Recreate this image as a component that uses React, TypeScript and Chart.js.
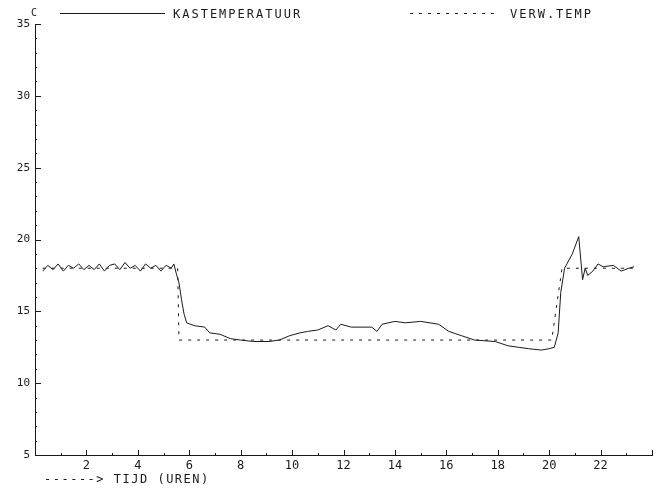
import React, { useEffect, useRef } from "react";
import { Chart, registerables } from "chart.js";

Chart.register(...registerables);

// Kastemperatuur (solid, measured)
const kasHours = [
  0.3, 0.5, 0.7, 0.9, 1.1, 1.3, 1.5, 1.7, 1.9, 2.1, 2.3, 2.5, 2.7, 2.9, 3.1, 3.3, 3.5, 3.7, 3.9, 4.1,
  4.3, 4.5, 4.7, 4.9, 5.1, 5.3, 5.4, 5.5, 5.6, 5.7, 5.8, 5.9, 6.2, 6.6, 6.8, 7.2, 7.6, 8.0, 8.5, 9.1,
  9.5, 9.9, 10.3, 10.6, 11.0, 11.4, 11.7, 11.9, 12.3, 12.8, 13.1, 13.3, 13.5, 14.0, 14.4, 15.0, 15.7,
  16.1, 16.6, 17.1, 17.9, 18.4, 18.8, 19.2, 19.7, 20.0, 20.2, 20.35, 20.45, 20.6, 20.9, 21.15, 21.3,
  21.4, 21.5, 21.7, 21.9, 22.1, 22.5, 22.8, 23.1, 23.3,
];
const kasTemp = [
  17.8, 18.2, 17.9, 18.3, 17.8, 18.2, 18.0, 18.3, 17.9, 18.2, 17.9, 18.3, 17.8, 18.2, 18.3, 17.9, 18.4, 18.0, 18.2, 17.8,
  18.3, 18.0, 18.2, 17.8, 18.2, 18.0, 18.3, 17.6, 17.0, 15.8, 14.8, 14.2, 14.0, 13.9, 13.5, 13.4, 13.1, 13.0, 12.9, 12.9,
  13.0, 13.3, 13.5, 13.6, 13.7, 14.0, 13.7, 14.1, 13.9, 13.9, 13.9, 13.6, 14.1, 14.3, 14.2, 14.3, 14.1,
  13.6, 13.3, 13.0, 12.9, 12.6, 12.5, 12.4, 12.3, 12.4, 12.5, 13.5, 16.3, 18.0, 19.0, 20.2, 17.2,
  18.0, 17.5, 17.8, 18.3, 18.1, 18.2, 17.8, 18.0, 18.1,
];

// Verwarmingstemperatuur (dotted, setpoint)
const verwHours = [0.3, 5.55, 5.6, 20.1, 20.5, 23.3];
const verwTemp = [18, 18, 13, 13, 18, 18];

const xMin = 0;
const xMax = 24;
const yMin = 5;
const yMax = 35;
const xLabelHours = [2, 4, 6, 8, 10, 12, 14, 16, 18, 20, 22];

const legendLabels = ["KASTEMPERATUUR", "VERW.TEMP"];
const xTitle = "------> TIJD (UREN)";
const yUnit = "C";

const INK = "#1a1a1a";
const MONO = '"DejaVu Sans Mono", "Liberation Mono", monospace';

const decorPlugin = {
  id: "decor",
  afterDraw(chart: any) {
    const ctx = chart.ctx;
    const xs = chart.scales.x;
    const ys = chart.scales.y;
    const area = chart.chartArea;
    ctx.save();
    ctx.strokeStyle = INK;
    ctx.lineWidth = 1;
    // x ticks (upward, inward)
    for (let h = xMin + 1; h <= xMax; h++) {
      const px = Math.round(xs.getPixelForValue(h)) + 0.5;
      const len = h % 2 === 0 ? 5 : 2;
      ctx.beginPath();
      ctx.moveTo(px, area.bottom);
      ctx.lineTo(px, area.bottom - len);
      ctx.stroke();
    }
    // y ticks (rightward, inward)
    for (let v = yMin + 1; v <= yMax; v++) {
      const py = Math.round(ys.getPixelForValue(v)) + 0.5;
      const len = v % 5 === 0 ? 6 : 2;
      ctx.beginPath();
      ctx.moveTo(area.left, py);
      ctx.lineTo(area.left + len, py);
      ctx.stroke();
    }
    // legend
    const ds = chart.data.datasets;
    ctx.font = `12px ${MONO}`;
    (ctx as any).letterSpacing = "2px";
    ctx.fillStyle = INK;
    ctx.textBaseline = "middle";
    const legendY = 13.5;
    const items = [
      { x0: 60, x1: 165, tx: 173 },
      { x0: 410, x1: 500, tx: 510 },
    ];
    items.forEach((it, i) => {
      ctx.setLineDash(ds[i].borderDash || []);
      ctx.beginPath();
      ctx.moveTo(it.x0, legendY);
      ctx.lineTo(it.x1, legendY);
      ctx.stroke();
      ctx.setLineDash([]);
      ctx.fillText(ds[i].label, it.tx, legendY + 1);
    });
    // x title
    ctx.font = `12px ${MONO}`;
    (ctx as any).letterSpacing = "1.5px";
    ctx.textBaseline = "alphabetic";
    ctx.fillText(xTitle, 44, 483);
    // y unit
    (ctx as any).letterSpacing = "0px";
    ctx.font = `10px ${MONO}`;
    ctx.fillText(yUnit, 31, 16);
    ctx.restore();
  },
};

export default function App() {
  const ref = useRef<HTMLCanvasElement | null>(null);
  useEffect(() => {
    if (!ref.current) return;
    const kasData = kasHours.map((h, i) => ({ x: h, y: kasTemp[i] }));
    const verwData = verwHours.map((h, i) => ({ x: h, y: verwTemp[i] }));
    const chart = new Chart(ref.current, {
      type: "line",
      data: {
        datasets: [
          {
            label: legendLabels[0],
            data: kasData,
            borderColor: INK,
            borderWidth: 1,
            pointRadius: 0,
            tension: 0,
            fill: false,
          },
          {
            label: legendLabels[1],
            data: verwData,
            borderColor: INK,
            borderWidth: 1,
            borderDash: [3, 6],
            pointRadius: 0,
            tension: 0,
            fill: false,
          },
        ],
      },
      options: {
        responsive: false,
        animation: false,
        layout: { padding: { top: 24, right: 9, left: 0, bottom: 0 } },
        plugins: { legend: { display: false }, tooltip: { enabled: false } },
        scales: {
          x: {
            type: "linear",
            min: xMin,
            max: xMax,
            afterFit: (s: any) => {
              s.height = 36;
            },
            ticks: {
              stepSize: 2,
              autoSkip: false,
              maxRotation: 0,
              padding: 4,
              color: INK,
              font: { family: MONO, size: 12 },
              callback: (v: any) => (xLabelHours.includes(Number(v)) ? String(v) : ""),
            },
            grid: { display: false, drawTicks: false },
            border: { display: true, color: INK, width: 1 },
          },
          y: {
            type: "linear",
            min: yMin,
            max: yMax,
            afterFit: (s: any) => {
              s.width = 35;
            },
            ticks: {
              stepSize: 5,
              padding: 5,
              color: INK,
              font: { family: MONO, size: 11 },
            },
            grid: { display: false, drawTicks: false },
            border: { display: true, color: INK, width: 1 },
          },
        },
      },
      plugins: [decorPlugin],
    });
    return () => chart.destroy();
  }, []);
  return (
    <div style={{ position: "fixed", left: 0, top: 0, width: 661, height: 491, background: "#fff" }}>
      <canvas ref={ref} width={661} height={491} />
    </div>
  );
}
